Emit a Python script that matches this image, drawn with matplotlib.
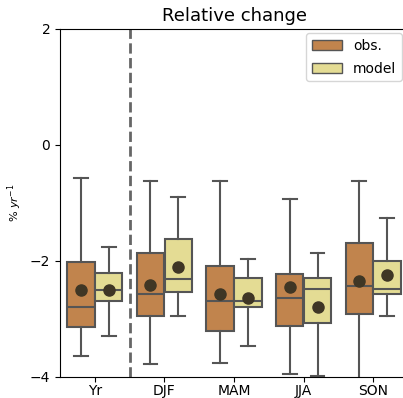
import matplotlib
matplotlib.use("Agg")
import matplotlib.pyplot as plt
from matplotlib.patches import Patch

categories = ["Yr", "DJF", "MAM", "JJA", "SON"]
series = ["obs.", "model"]

# (whislo, q1, median, q3, whishi, mean)
obs_whislo = [-3.65, -3.78, -3.76, -3.96, -4.10]
obs_q1 = [-3.15, -2.95, -3.22, -3.12, -2.92]
obs_med = [-2.79, -2.57, -2.70, -2.64, -2.44]
obs_q3 = [-2.02, -1.86, -2.09, -2.23, -1.70]
obs_whishi = [-0.57, -0.63, -0.62, -0.94, -0.63]
obs_mean = [-2.51, -2.42, -2.58, -2.46, -2.34]

mod_whislo = [-3.29, -2.95, -3.47, -3.99, -2.95]
mod_q1 = [-2.69, -2.53, -2.79, -3.08, -2.58]
mod_med = [-2.51, -2.32, -2.69, -2.49, -2.48]
mod_q3 = [-2.21, -1.62, -2.30, -2.30, -2.00]
mod_whishi = [-1.77, -0.90, -1.97, -1.86, -1.26]
mod_mean = [-2.51, -2.11, -2.64, -2.79, -2.25]

colors = ["#c1844d", "#e4dc94"]
edge = "#555555"

fig = plt.figure(figsize=(4.03, 3.98), dpi=100)
ax = fig.add_axes([60/403, 21.3/398, 348/403, (376.7-29)/398])

def stats(lo, q1, med, q3, hi, mean):
    return [dict(whislo=a, q1=b, med=c, q3=d, whishi=e, mean=f, fliers=[])
            for a, b, c, d, e, f in zip(lo, q1, med, q3, hi, mean)]

groups = [
    stats(obs_whislo, obs_q1, obs_med, obs_q3, obs_whishi, obs_mean),
    stats(mod_whislo, mod_q1, mod_med, mod_q3, mod_whishi, mod_mean),
]
width = 0.8 / 2
for i, (st, col) in enumerate(zip(groups, colors)):
    pos = [k - 0.2 + i * width for k in range(len(categories))]
    ax.bxp(st, positions=pos, widths=width * 0.98, patch_artist=True,
           showmeans=True, showfliers=False,
           boxprops=dict(facecolor=col, edgecolor=edge, linewidth=1.5),
           medianprops=dict(color=edge, linewidth=1.5),
           whiskerprops=dict(color=edge, linewidth=1.5),
           capprops=dict(color=edge, linewidth=1.5),
           meanprops=dict(marker="o", markerfacecolor="#3f3625",
                          markeredgecolor="#3f3625", markersize=8),
           capwidths=width * 0.49)

ax.axvline(0.5, color="#666666", linestyle="--", linewidth=2)
ax.set_xlim(-0.5, len(categories) - 0.5)
ax.set_ylim(-4, 2)
ax.set_yticks([-4, -2, 0, 2])
ax.set_xticks(range(len(categories)))
ax.set_xticklabels(categories)
ax.tick_params(labelsize=10)
ax.tick_params(axis="x", pad=2)
ax.set_ylabel("% $yr^{-1}$", fontsize=8)
ax.set_title("Relative change", fontsize=13)
ax.spines["right"].set_visible(False)

handles = [Patch(facecolor=c, edgecolor=edge, label=l) for c, l in zip(colors, series)]
leg = ax.legend(handles=handles, loc="upper right", fontsize=10,
                handlelength=2.2, labelspacing=0.65,
                bbox_to_anchor=((402-60)/348, 1 - 4/347.7), borderaxespad=0)

fig.savefig("out.png", dpi=100)
